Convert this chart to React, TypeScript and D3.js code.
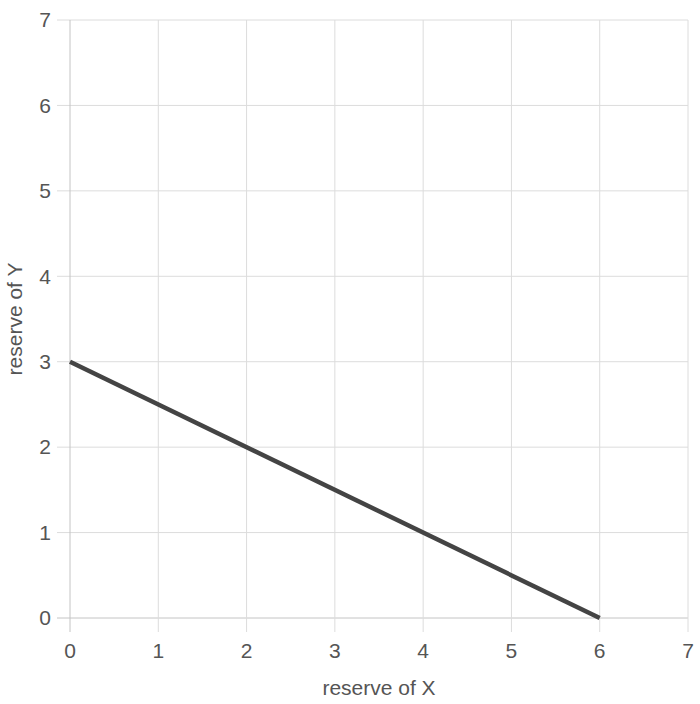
import React from "react";
import * as d3 from "d3";

const xTicks = [0, 1, 2, 3, 4, 5, 6, 7];
const yTicks = [0, 1, 2, 3, 4, 5, 6, 7];
const lineX = [0, 6];
const lineY = [3, 0];
const xTitle = "reserve of X";
const yTitle = "reserve of Y";

export default function App() {
  const W = 700, H = 704;
  const x = d3.scaleLinear().domain([0, 7]).range([70, 688]);
  const y = d3.scaleLinear().domain([0, 7]).range([618, 20]);
  const pts = lineX.map((v, i) => [v, lineY[i]] as [number, number]);
  const path = d3.line<[number, number]>().x(d => x(d[0])).y(d => y(d[1]))(pts) || "";
  const font = "Helvetica, Arial, 'Liberation Sans', sans-serif";
  return (
    <svg width={W} height={H} style={{ position: "absolute", left: 0, top: 0 }} fontFamily={font}>
      <rect width={W} height={H} fill="#fff" />
      {yTicks.map(t => (
        <line key={"gy" + t} x1={57} x2={688} y1={y(t)} y2={y(t)} stroke={t === 0 ? "#c4c4c4" : "#dcdcdc"} strokeWidth={1} />
      ))}
      {xTicks.map(t => (
        <line key={"gx" + t} x1={x(t)} x2={x(t)} y1={20} y2={632} stroke={t === 0 ? "#c4c4c4" : "#dcdcdc"} strokeWidth={1} />
      ))}
      {yTicks.map(t => (
        <text key={"ty" + t} x={51} y={y(t)} dy="0.35em" textAnchor="end" fontSize={21} fill="#555">{t}</text>
      ))}
      {xTicks.map(t => (
        <text key={"tx" + t} x={x(t)} y={651} dy="0.35em" textAnchor="middle" fontSize={21} fill="#555">{t}</text>
      ))}
      <path d={path} fill="none" stroke="#444" strokeWidth={4.5} />
      <text x={379} y={688} dy="0.35em" textAnchor="middle" fontSize={21} fill="#555">{xTitle}</text>
      <text transform={`translate(15,319) rotate(-90)`} dy="0.35em" textAnchor="middle" fontSize={21} fill="#555">{yTitle}</text>
    </svg>
  );
}
